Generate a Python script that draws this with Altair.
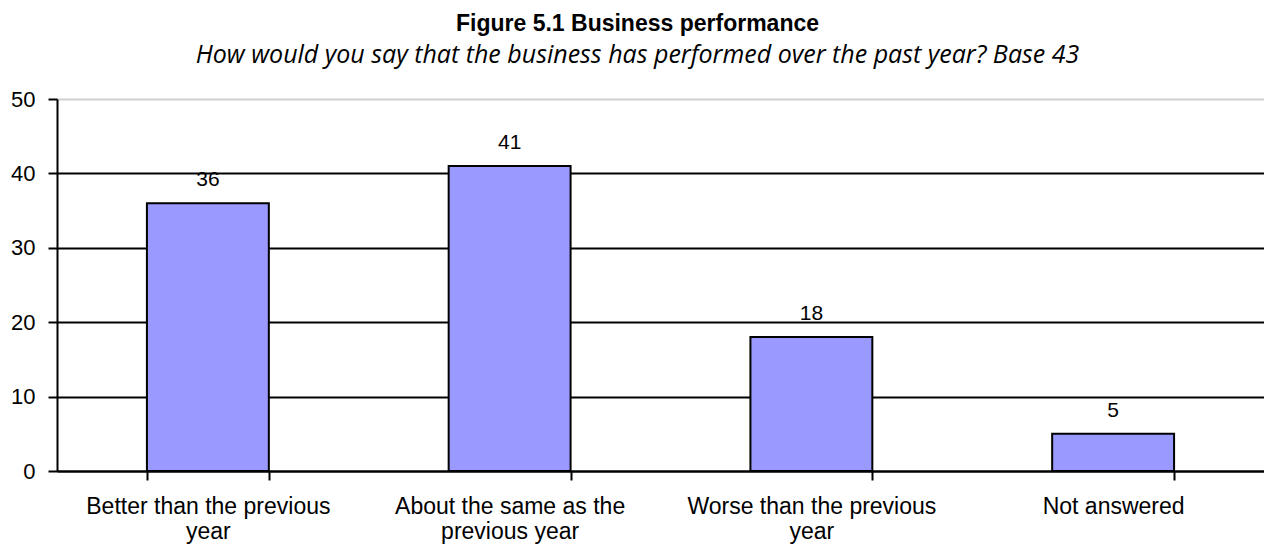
import altair as alt
import pandas as pd

categories = ["Better than the previous|year", "About the same as the|previous year",
              "Worse than the previous|year", "Not answered"]
values = [36, 41, 18, 5]

df = pd.DataFrame({"cat": categories, "val": values})

x = alt.X("cat:N", sort=categories, title=None,
          scale=alt.Scale(paddingInner=0.596, paddingOuter=0.298),
          axis=alt.Axis(labelExpr="split(datum.label, '|')", labelAngle=0, labelLimit=0,
                        labelFont="Liberation Sans", labelFontSize=23, labelColor="black",
                        labelPadding=15, labelLineHeight=25,
                        tickBand="extent", tickSize=9, tickWidth=2, tickColor="black",
                        domainColor="black", domainWidth=2, grid=False))
y = alt.Y("val:Q", title=None,
          scale=alt.Scale(domain=[0, 50], nice=False),
          axis=alt.Axis(values=[0, 10, 20, 30, 40, 50], labelFont="Liberation Sans",
                        labelFontSize=22, labelColor="black", labelPadding=13,
                        tickSize=9, tickWidth=2, tickColor="black",
                        domainColor="black", domainWidth=2,
                        grid=True, gridWidth=2,
                        gridColor=alt.condition("datum.value == 50", alt.value("#d0d0d0"), alt.value("black"))))

bars = alt.Chart(df).mark_bar(color="#9999FF", stroke="black", strokeWidth=2).encode(x=x, y=y)
labels = alt.Chart(df).mark_text(font="Liberation Sans", fontSize=21, color="black",
                                 baseline="alphabetic", dy=-17).encode(
    x=alt.X("cat:N", sort=categories), y="val:Q", text="val:Q")

chart = alt.layer(bars, labels).properties(
    width=1207, height=372,
    title=alt.TitleParams(
        text="Figure 5.1 Business performance",
        subtitle="How would you say that the business has performed over the past year?  Base 43",
        font="Liberation Sans", fontSize=23, fontWeight="bold", color="black",
        subtitleFont="Open Sans", subtitleFontSize=25, subtitleFontStyle="italic",
        subtitleColor="black", subtitlePadding=7, offset=20, anchor="middle", dx=-23),
    autosize=alt.AutoSizeParams(type="none"),
    padding={"left": 49, "top": 91, "right": 0, "bottom": 73}
).configure_view(stroke=None).configure(background="white")

chart.save("out.html", embed_options={"renderer": "svg", "actions": False})
